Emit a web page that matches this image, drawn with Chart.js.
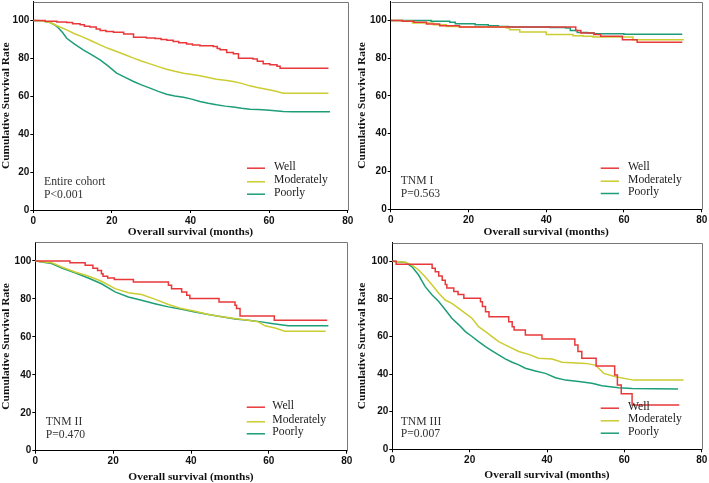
<!DOCTYPE html>
<html>
<head>
<meta charset="utf-8">
<script src="https://cdn.jsdelivr.net/npm/chart.js@4.4.0/dist/chart.umd.min.js"></script>
<style>
  body { margin: 0; background: #fff; }
  canvas { position: absolute; }
</style>
</head>
<body>
<canvas id="c1" width="354" height="240" style="left:0;top:0"></canvas>
<canvas id="c2" width="355" height="240" style="left:354px;top:0"></canvas>
<canvas id="c3" width="354" height="243" style="left:0;top:240px"></canvas>
<canvas id="c4" width="355" height="243" style="left:354px;top:240px"></canvas>
<script>
// Kaplan-Meier curves, [month, survival %]
const groupNames = ['Well', 'Moderately', 'Poorly'];
const xTicks = [0, 20, 40, 60, 80];
const yTicks = [0, 20, 40, 60, 80, 100];

const cohortWell = [[0,100],[3,99.6],[6,99.2],[8.5,98.9],[10,98.3],[11.9,97.7],[13,97],[14.4,96.5],[16,95.5],[17,94.7],[18.5,94.2],[20.4,93.8],[23,92.9],[25.5,91.2],[28.8,90.8],[31,90.5],[32.5,90],[34,89.5],[35.6,88.9],[37,88.2],[39,87.6],[40.5,87],[42.4,86.7],[45.8,86.2],[46.8,85.2],[47.5,84.5],[49.2,83.1],[50.9,82.4],[52.2,80.1],[55.9,79.6],[57,78.5],[58.5,77.1],[60.2,76.6],[62,75.8],[62.8,74.8],[75.1,74.8]];
const cohortModerate = [[0,100],[2,99.8],[4.3,98.9],[6,97.2],[8.5,95],[10.5,93],[12.7,91.2],[15,89],[17,87.1],[19,85.3],[21.2,83.6],[23.5,81.8],[25.5,80.1],[27.5,78.6],[29.7,77.1],[32,75.5],[33.9,74.3],[36,73.2],[38.2,72.2],[40,71.6],[42.4,70.8],[44.5,69.9],[46.6,69],[48.8,68.5],[50.9,67.8],[53,66.8],[55.1,65.5],[57,64.6],[59.3,63.7],[61.5,62.8],[63.6,61.6],[75.1,61.6]];
const cohortPoorly = [[0,100],[2,99.8],[4.3,98.9],[5.5,97.5],[6.4,96],[7.5,93.5],[8.5,90.6],[10.5,87.5],[12.7,84.5],[15,81.7],[17,79.2],[19,76],[21.2,72.2],[23.5,69.8],[25.5,67.8],[27.5,66],[29.7,64.3],[31.8,62.6],[33.9,61.1],[36,60.2],[38.2,59.5],[40.3,58.5],[42.4,57.2],[44.5,56.3],[46.6,55.5],[48.8,54.8],[50.9,54.3],[53,53.7],[55.1,53.2],[57.2,53],[59.3,52.8],[61.5,52.4],[63.6,52],[66,51.8],[75.5,51.8]];

const tnm1Well = [[0,100],[3,99.5],[6,99],[9.2,98.1],[12.6,97.2],[17.7,96.5],[47.6,94.7],[48.9,93.3],[52.3,92.5],[54,91.6],[59.6,89.8],[63.4,88.4],[75,88.4]];
const tnm1Moderate = [[0,100],[3,99.5],[5.6,98.6],[11,97.7],[14.3,96.8],[17.7,96.5],[29.7,96],[30.6,95.1],[33.2,93.8],[40,92.5],[46.9,91.9],[49.5,91.6],[52,91.2],[62.3,89.8],[75.4,89.8]];
const tnm1Poorly = [[0,100],[7.6,100],[10.4,99.5],[15.2,99],[16.6,98.2],[21.7,97.7],[25.1,97.2],[27.7,96.8],[30.3,96.5],[41,96.2],[45,96],[46.2,94.7],[48,93.6],[50.6,93.3],[52.3,92.9],[60,92.7],[75,92.7]];

const tnm2Well = [[0,100],[8.9,99.1],[12.8,97.7],[14.8,96.2],[16,95],[17,93.2],[17.4,92],[18.6,91],[20.3,90.3],[25.2,88.9],[34.2,87.2],[35,85.4],[37.6,83.7],[38.9,81.9],[39.7,80.2],[47.2,78.4],[51.3,76.7],[51.7,74.9],[52.6,71],[61.4,68.8],[75,68.8]];
const tnm2Moderate = [[0,100],[4.2,99.1],[6.8,96.8],[10.2,94.2],[13.6,92.1],[17,89.3],[20.5,85.4],[23.9,83.3],[27.3,82.3],[30.7,79.9],[34.2,77.1],[37.6,74.9],[41,73.5],[44.5,71.8],[47.9,70.6],[51.3,69.7],[54.7,68.8],[57.3,67.9],[59,65.8],[61.6,64.7],[64.1,63],[74.6,63]];
const tnm2Poorly = [[0,100],[4.2,98.6],[6.8,96.3],[10.2,93.8],[13.6,91],[17,88],[20.5,83.7],[23.9,81],[27.3,79.3],[30.7,77.5],[34.2,75.8],[37.6,74.5],[41,73.1],[44.5,71.8],[47.9,70.6],[51.3,69.4],[54.7,68.8],[58.1,67.9],[60.7,67.1],[65,65.8],[75.3,65.8]];

const tnm3Well = [[0,100],[1,98.4],[10.3,96.3],[11.1,94.5],[12,92.2],[12.9,89.9],[13.7,87.6],[14.1,85.8],[15.9,84],[17,82.3],[18.5,80.3],[22.8,78.5],[23.3,75.9],[24.1,73.2],[25,70.5],[30.1,67.9],[31,65.2],[31.5,63.5],[34.4,60.8],[38.7,58.7],[47.2,55.5],[48,52],[49,48.4],[52.7,44.3],[57.5,39.5],[58.2,34.2],[59.2,29.5],[62,23.6],[74.2,23.6]];
const tnm3Moderate = [[0,100],[3.4,99.5],[5.1,98],[6.8,95.4],[8.5,91.8],[10.3,87.4],[12,83],[13.7,79.4],[15.4,77.6],[17.2,75],[18.9,72.3],[20.6,69.7],[22.3,65.2],[24.1,62.6],[25.8,59.9],[27.5,57.3],[30.1,54.6],[32.7,52],[35.3,50.5],[37.8,48.4],[41.3,48],[43.9,46.3],[49.9,45.7],[52.5,44.8],[53.8,42.2],[54.7,40.4],[57.7,38.6],[62.4,36.8],[75.3,36.8]];
const tnm3Poorly = [[0,100],[3.4,99.4],[5.1,97.1],[6.8,92.7],[8.5,86.5],[10.3,82.1],[12,78.6],[13.7,74.2],[15.4,69.7],[17.2,66.2],[18.9,62.6],[20.6,60],[22.3,57.3],[24.1,54.6],[25.8,52.4],[27.5,50.2],[29.2,48.1],[31,46.3],[32.7,44.9],[34.4,43.1],[37,41.7],[39.6,40.4],[42.2,38.1],[44.8,36.8],[48.2,36],[51.6,35.1],[54.2,33.8],[58.5,32.8],[62,32.4],[73.9,32.1]];

const colors = ['#e8383a', '#cccc33', '#1d9e78'];
const serif = "'Liberation Serif', 'Times New Roman', serif";
const sans = "'Liberation Sans', Arial, sans-serif";

// frame + in-plot legend and notes
const kmDecor = {
  id: 'kmDecor',
  afterDraw(chart, args, o) {
    const ctx = chart.ctx, a = chart.chartArea;
    ctx.save();
    ctx.strokeStyle = '#777';
    ctx.lineWidth = 1;
    ctx.beginPath();
    ctx.moveTo(Math.round(a.left) + 0.5, Math.round(a.top) + 0.5);
    ctx.lineTo(Math.round(a.right) + 0.5, Math.round(a.top) + 0.5);
    ctx.lineTo(Math.round(a.right) + 0.5, Math.round(a.bottom) + 0.5);
    ctx.stroke();

    ctx.font = '11.7px ' + serif;
    ctx.textBaseline = 'middle';
    groupNames.forEach((name, i) => {
      ctx.strokeStyle = colors[i];
      ctx.lineWidth = 1.5;
      ctx.beginPath();
      ctx.moveTo(o.lineX[0], o.rows[i] + 1.5);
      ctx.lineTo(o.lineX[1], o.rows[i] + 1.5);
      ctx.stroke();
      ctx.fillStyle = '#222';
      ctx.fillText(name, o.textX, o.rows[i]);
    });
    ctx.fillStyle = '#333';
    o.notes.forEach((t, i) => ctx.fillText(t, o.noteX, o.noteRows[i]));
    ctx.restore();
  }
};

function makePanel(id, series, stepped, box, deco) {
  const datasets = series.map((s, i) => ({
    label: groupNames[i],
    data: s.map(([x, y]) => ({x, y})),
    borderColor: colors[i],
    borderWidth: 1.5,
    pointRadius: 0,
    stepped: stepped[i],
    fill: false
  }));
  new Chart(document.getElementById(id), {
    type: 'line',
    data: { datasets },
    plugins: [kmDecor],
    options: {
      responsive: false,
      animation: false,
      devicePixelRatio: 1,
      layout: { padding: { left: 0, top: box.top, right: box.right, bottom: 0 } },
      plugins: {
        legend: { display: false },
        tooltip: { enabled: false },
        kmDecor: deco
      },
      scales: {
        x: {
          type: 'linear', min: 0, max: 80,
          afterBuildTicks: s => { s.ticks = xTicks.map(v => ({value: v})); },
          afterFit: s => { s.height = box.xh; s.paddingLeft = 0; s.paddingRight = 0; },
          ticks: { color: '#111', padding: 2, font: { family: sans, size: 10, weight: 'bold' } },
          grid: { drawOnChartArea: false, tickLength: 3, color: '#000' },
          border: { color: '#000', width: 1 },
          title: {
            display: true, text: 'Overall survival (months)', color: '#111',
            font: { family: serif, size: 11.4, weight: 'bold', lineHeight: 1 },
            padding: { top: 0, bottom: box.xt }
          }
        },
        y: {
          type: 'linear', min: 0, max: 110,
          afterBuildTicks: s => { s.ticks = yTicks.map(v => ({value: v})); },
          afterFit: s => { s.width = box.yw; s.paddingTop = 0; s.paddingBottom = 0; },
          ticks: { color: '#111', padding: 1, font: { family: sans, size: 10, weight: 'bold' } },
          grid: { drawOnChartArea: false, tickLength: 3, color: '#000' },
          border: { color: '#000', width: 1 },
          title: {
            display: true, text: 'Cumulative Survival Rate', color: '#111',
            font: { family: serif, size: 11.4, weight: 'bold', lineHeight: 1 },
            padding: { top: box.yt, bottom: 0 }
          }
        }
      }
    }
  });
}

makePanel('c1', [cohortWell, cohortModerate, cohortPoorly], [true, false, false],
  { top: 1.5, right: 6.3, xh: 30, yw: 33.3, xt: 2.7, yt: 0 },
  { lineX: [247, 265], textX: 274, rows: [166.7, 180.3, 192.7], noteX: 44, noteRows: [182.3, 194.7], notes: ['Entire cohort', 'P<0.001'] });

makePanel('c2', [tnm1Well, tnm1Moderate, tnm1Poorly], [true, true, true],
  { top: 1.5, right: 7.3, xh: 30.7, yw: 36.7, xt: 2.1, yt: 2.7 },
  { lineX: [246.7, 265], textX: 274, rows: [166.7, 179.7, 192], noteX: 46.7, noteRows: [181.3, 193.7], notes: ['TNM I', 'P=0.563'] });

makePanel('c3', [tnm2Well, tnm2Moderate, tnm2Poorly], [true, false, false],
  { top: 2, right: 7.3, xh: 32.3, yw: 35.3, xt: 0.7, yt: 0 },
  { lineX: [246.7, 265], textX: 272.3, rows: [165.7, 180.3, 192.3], noteX: 45.7, noteRows: [182.3, 195], notes: ['TNM II', 'P=0.470'] });

makePanel('c4', [tnm3Well, tnm3Moderate, tnm3Poorly], [true, false, false],
  { top: 2.5, right: 7.3, xh: 33.7, yw: 38.3, xt: 2.4, yt: 2.7 },
  { lineX: [246.7, 265], textX: 274, rows: [166.7, 179.3, 191.7], noteX: 46.7, noteRows: [182.3, 194.3], notes: ['TNM III', 'P=0.007'] });
</script>
</body>
</html>
